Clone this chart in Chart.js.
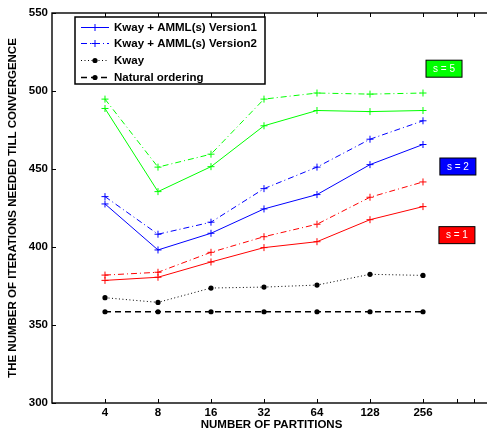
<!DOCTYPE html>
<html>
<head>
<meta charset="utf-8">
<script src="https://cdn.jsdelivr.net/npm/chart.js@4.4.1/dist/chart.umd.min.js"></script>
<style>
  html, body { margin: 0; padding: 0; background: #fff; overflow: hidden; }
  #wrap { width: 487px; height: 432px; overflow: hidden; }
</style>
</head>
<body>
<div id="wrap"><canvas id="myChart" width="496" height="432"></canvas></div>
<script>
// data
const partitions = [4, 8, 16, 32, 64, 128, 256];
const xTickLabels = ["4", "8", "16", "32", "64", "128", "256"];
const yTickValues = [300, 350, 400, 450, 500, 550];

const v1S1 = [378.6, 380.6, 390.4, 399.6, 403.4, 417.5, 425.9];
const v2S1 = [382.0, 383.8, 396.6, 406.6, 414.6, 431.9, 441.7];
const v1S2 = [427.6, 398.1, 408.8, 424.4, 433.6, 452.8, 465.7];
const v2S2 = [432.3, 408.2, 415.9, 437.4, 451.2, 469.1, 480.9];
const v1S5 = [488.8, 435.5, 451.5, 477.7, 487.5, 486.8, 487.5];
const v2S5 = [494.8, 451.2, 459.5, 494.8, 498.7, 498.0, 498.7];
const kway = [367.5, 364.5, 373.7, 374.3, 375.6, 382.5, 381.8];
const natural = [358.5, 358.5, 358.5, 358.5, 358.5, 358.5, 358.5];

const legendLabels = ["Kway + AMML(s) Version1", "Kway + AMML(s) Version2", "Kway", "Natural ordering"];
const sLabels = ["s = 5", "s = 2", "s = 1"];

const FONT = "Liberation Sans, Arial, Helvetica, sans-serif";
const GREEN = "#00ff00", BLUE = "#0000ff", RED = "#ff0000";
const DASHDOT = [6, 3, 1, 3];
const DOTTED = [1, 2.5];
const DASHED = [6, 4];

const toPoints = (values) => values.map((v, i) => ({x: partitions[i], y: v}));

const plusLine = (values, color, dash) => ({
    data: toPoints(values),
    borderColor: color,
    backgroundColor: color,
    borderWidth: 1,
    borderDash: dash,
    pointStyle: "cross",
    pointRadius: 3.5,
    pointBorderWidth: 1,
    pointBorderColor: color,
    tension: 0,
});

const starLine = (values, dash, width) => ({
    data: toPoints(values),
    borderColor: "#000",
    backgroundColor: "#000",
    borderWidth: width,
    borderDash: dash,
    pointStyle: "circle",
    pointRadius: 2.6,
    pointBorderWidth: 0,
    tension: 0,
});

const datasets = [
    plusLine(v1S5, GREEN, []),
    plusLine(v2S5, GREEN, DASHDOT),
    plusLine(v1S2, BLUE, []),
    plusLine(v2S2, BLUE, DASHDOT),
    plusLine(v1S1, RED, []),
    plusLine(v2S1, RED, DASHDOT),
    starLine(kway, DOTTED, 1),
    starLine(natural, DASHED, 1.6),
];

// where the s = ... boxes sit, in data units
const sBoxes = [
    {x: 337, y: 514.3, fill: GREEN},
    {x: 404, y: 451.6, fill: BLUE},
    {x: 399, y: 407.6, fill: RED},
];

// frame, inward ticks, legend and s-labels
const decorations = {
    id: "decorations",
    afterDatasetsDraw(chart) {
        const ctx = chart.ctx;
        const {left, right, top, bottom} = chart.chartArea;
        const xs = chart.scales.x, ys = chart.scales.y;
        ctx.save();

        // frame
        ctx.strokeStyle = "#000";
        ctx.lineWidth = 1.4;
        ctx.setLineDash([]);
        ctx.strokeRect(left, top, right - left, bottom - top);

        // inward ticks
        ctx.lineWidth = 1;
        const tl = 4;
        [...partitions, 400, 500].forEach((p) => {
            const px = Math.round(xs.getPixelForValue(p)) + 0.5;
            ctx.beginPath();
            ctx.moveTo(px, bottom); ctx.lineTo(px, bottom - tl);
            ctx.moveTo(px, top); ctx.lineTo(px, top + tl);
            ctx.stroke();
        });
        yTickValues.forEach((v) => {
            const py = Math.round(ys.getPixelForValue(v)) + 0.5;
            ctx.beginPath();
            ctx.moveTo(left, py); ctx.lineTo(left + tl, py);
            ctx.moveTo(right, py); ctx.lineTo(right - tl, py);
            ctx.stroke();
        });

        // legend box
        const lx = 75, ly = 17, lw = 190, lh = 67;
        ctx.fillStyle = "#fff";
        ctx.fillRect(lx, ly, lw, lh);
        ctx.lineWidth = 1.5;
        ctx.strokeRect(lx, ly, lw, lh);

        const legendSamples = [datasets[2], datasets[3], datasets[6], datasets[7]];
        const rowY = [27, 43, 60, 77];
        legendSamples.forEach((ds, i) => {
            const y = rowY[i] + 0.5;
            ctx.strokeStyle = ds.borderColor;
            ctx.lineWidth = ds.borderWidth;
            ctx.setLineDash(ds.borderDash);
            ctx.beginPath();
            ctx.moveTo(81, y); ctx.lineTo(109, y);
            ctx.stroke();
            ctx.setLineDash([]);
            if (ds.pointStyle === "cross") {
                ctx.lineWidth = 1;
                ctx.beginPath();
                ctx.moveTo(95 - 3.5, y); ctx.lineTo(95 + 3.5, y);
                ctx.moveTo(95, y - 3.5); ctx.lineTo(95, y + 3.5);
                ctx.stroke();
            } else {
                ctx.fillStyle = "#000";
                ctx.beginPath();
                ctx.arc(95, y, 2.6, 0, Math.PI * 2);
                ctx.fill();
            }
            ctx.fillStyle = "#000";
            ctx.font = "bold 11.5px " + FONT;
            ctx.textBaseline = "middle";
            ctx.textAlign = "left";
            ctx.fillText(legendLabels[i], 114, y);
        });

        // s = ... labels
        sBoxes.forEach((b, i) => {
            const cx = xs.getPixelForValue(b.x);
            const cy = ys.getPixelForValue(b.y);
            const w = 36, h = 17;
            ctx.fillStyle = b.fill;
            ctx.fillRect(cx - w / 2, cy - h / 2, w, h);
            ctx.strokeStyle = "#000";
            ctx.lineWidth = 1;
            ctx.strokeRect(cx - w / 2, cy - h / 2, w, h);
            ctx.fillStyle = "#fff";
            ctx.font = "10px " + FONT;
            ctx.textAlign = "center";
            ctx.textBaseline = "middle";
            ctx.fillText(sLabels[i], cx, cy + 0.5);
        });

        ctx.restore();
    },
};

const config = {
    type: "line",
    data: {datasets},
    options: {
        responsive: false,
        animation: false,
        layout: {padding: {top: 13, right: 2, left: 0, bottom: 0}},
        plugins: {legend: {display: false}, tooltip: {enabled: false}},
        scales: {
            x: {
                type: "logarithmic",
                min: 2,
                max: 623,
                afterBuildTicks: (scale) => {
                    scale.ticks = partitions.map((p) => ({value: p}));
                },
                afterFit: (scale) => {
                    scale.height = 29;
                    scale.paddingLeft = 0;
                    scale.paddingRight = 0;
                },
                grid: {display: false, drawTicks: false},
                border: {display: false},
                ticks: {
                    autoSkip: false,
                    maxRotation: 0,
                    padding: 3,
                    color: "#000",
                    font: {family: FONT, size: 11.5, weight: "bold"},
                    callback: (value) => xTickLabels[partitions.indexOf(value)],
                },
                title: {
                    display: true,
                    text: "NUMBER OF PARTITIONS",
                    color: "#000",
                    padding: 0,
                    font: {family: FONT, size: 11.5, weight: "bold"},
                },
            },
            y: {
                min: 300,
                max: 550,
                afterBuildTicks: (scale) => {
                    scale.ticks = yTickValues.map((v) => ({value: v}));
                },
                afterFit: (scale) => {
                    scale.width = 52;
                    scale.paddingTop = 0;
                    scale.paddingBottom = 0;
                },
                grid: {display: false, drawTicks: false},
                border: {display: false},
                ticks: {
                    padding: 4,
                    color: "#000",
                    font: {family: FONT, size: 11.5, weight: "bold"},
                },
                title: {
                    display: true,
                    text: "THE NUMBER OF ITERATIONS NEEDED TILL CONVERGENCE",
                    color: "#000",
                    padding: {top: 6, bottom: 0},
                    font: {family: FONT, size: 11.5, weight: "bold"},
                },
            },
        },
    },
    plugins: [decorations],
};

const myChart = new Chart(document.getElementById("myChart"), config);
</script>
</body>
</html>
